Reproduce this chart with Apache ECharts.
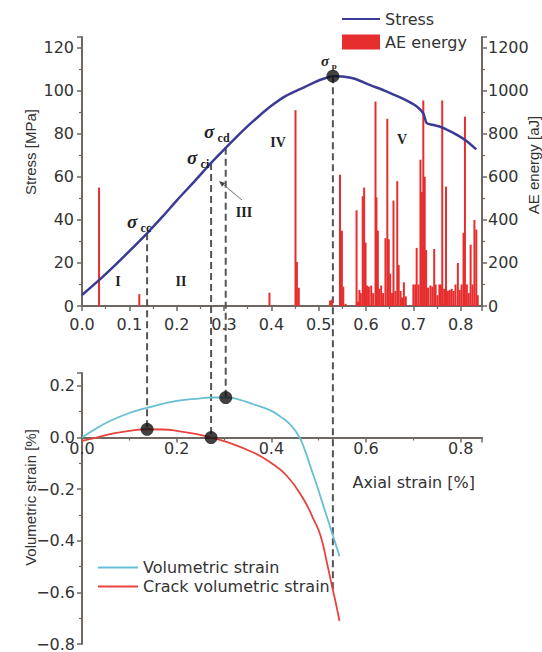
<!DOCTYPE html>
<html><head><meta charset="utf-8">
<script src="https://cdn.jsdelivr.net/npm/echarts@6/dist/echarts.min.js"></script>
<style>html,body{margin:0;padding:0;background:#fff}#c{width:542px;height:652px}</style>
</head><body><div id="c"></div>
<script>
// ---- data ----
const stressStrain = [0, 0.036, 0.07, 0.1, 0.1375, 0.17, 0.2, 0.24, 0.2727, 0.3036, 0.34, 0.37, 0.4, 0.43, 0.468, 0.5, 0.53, 0.55, 0.574, 0.609, 0.64, 0.666, 0.69, 0.708, 0.721, 0.728, 0.74, 0.758, 0.775, 0.793, 0.81, 0.833];
const stressValues = [5.1, 12, 19, 25.5, 33.8, 41.5, 49, 58.5, 66.5, 73.5, 81.5, 87.5, 93, 97.5, 101.5, 104.8, 106.8, 106.6, 105.7, 102.6, 100, 97.5, 95, 92.6, 89.5, 85, 84.2, 83.2, 81.5, 79.4, 77, 72.8];

const aeStrain = [0.036, 0.121, 0.396, 0.451, 0.454, 0.458, 0.524, 0.528, 0.545, 0.549, 0.552, 0.557, 0.580, 0.583, 0.586, 0.589, 0.593, 0.596, 0.599, 0.602, 0.606, 0.611, 0.615, 0.620, 0.622, 0.625, 0.628, 0.632, 0.636, 0.641, 0.645, 0.648, 0.651, 0.655, 0.658, 0.662, 0.666, 0.669, 0.673, 0.676, 0.680, 0.684, 0.700, 0.704, 0.707, 0.711, 0.715, 0.718, 0.721, 0.724, 0.727, 0.731, 0.736, 0.740, 0.744, 0.747, 0.751, 0.755, 0.758, 0.761, 0.765, 0.769, 0.773, 0.777, 0.781, 0.785, 0.789, 0.794, 0.798, 0.802, 0.806, 0.809, 0.813, 0.817, 0.821, 0.825, 0.829, 0.833, 0.836];
const aeEnergy = [550, 55, 62, 910, 205, 85, 25, 30, 610, 350, 90, 10, 445, 20, 75, 60, 510, 550, 295, 95, 90, 95, 60, 950, 505, 350, 80, 95, 60, 315, 870, 310, 150, 60, 490, 70, 580, 190, 70, 40, 110, 45, 100, 100, 270, 100, 680, 530, 955, 600, 260, 85, 95, 90, 265, 100, 50, 100, 100, 955, 80, 555, 70, 75, 80, 70, 100, 200, 75, 100, 340, 880, 100, 60, 285, 100, 400, 355, 50];

const volStrainX = [0, 0.03, 0.059, 0.1, 0.139, 0.2, 0.25, 0.2727, 0.3036, 0.33, 0.362, 0.398, 0.42, 0.44, 0.458, 0.47, 0.482, 0.497, 0.51, 0.528, 0.544];
const volStrainValues = [0, 0.035, 0.064, 0.095, 0.116, 0.142, 0.152, 0.155, 0.155, 0.148, 0.129, 0.105, 0.08, 0.05, 0.006, -0.045, -0.11, -0.19, -0.265, -0.368, -0.46];

const crackStrainX = [0, 0.03, 0.059, 0.1, 0.1375, 0.17, 0.2, 0.24, 0.2727, 0.31, 0.362, 0.398, 0.433, 0.468, 0.49, 0.504, 0.518, 0.528, 0.536, 0.544];
const crackStrainValues = [-0.013, 0.0, 0.013, 0.026, 0.032, 0.031, 0.026, 0.014, 0, -0.02, -0.058, -0.097, -0.149, -0.239, -0.32, -0.381, -0.49, -0.575, -0.64, -0.711];

// characteristic points: sigma_cc, sigma_ci, sigma_cd, sigma_p
const keyStrain = [0.1375, 0.2727, 0.3036, 0.530];
const keyStress = [33.8, 66.5, 73.5, 106.8];
const keyVolumetric = [0.032, 0, 0.155, -0.6];

const legendTop = ['Stress', 'AE energy'];
const legendBottom = ['Volumetric strain', 'Crack volumetric strain'];

// ---- chart ----
const zip = (a, b) => a.map((v, i) => [v, b[i]]);
const axisColor = '#6f6762';
const labelColor = '#333';
const FONT = 'DejaVu Sans';
const NAMEFONT = 'Liberation Sans';
const minus = v => (Math.abs(v) < 1e-9 ? '0.0' : v.toFixed(1).replace('-', '\u2212'));
const noSymbol = {opacity: 0, borderWidth: 0};

function valAxis(extra) {
  return Object.assign({
    type: 'value',
    nameMoveOverlap: false,
    axisLine: {show: true, onZero: false, lineStyle: {color: axisColor, width: 2}},
    axisTick: {show: true, inside: false, length: 5, lineStyle: {color: axisColor, width: 1.5}},
    minorTick: {show: true, splitNumber: 2, length: 3, lineStyle: {color: axisColor, width: 1.2}},
    splitLine: {show: false},
    minorSplitLine: {show: false},
    axisLabel: {color: labelColor, fontSize: 16, fontFamily: FONT, showMaxLabel: false, hideOverlap: false}
  }, extra);
}

const option = {
  animation: false,
  backgroundColor: '#ffffff',
  textStyle: {fontFamily: FONT},
  legend: [
    {orient: 'vertical', left: 336, top: 5, itemWidth: 38, itemHeight: 15, itemGap: 5,
     data: [{name: legendTop[0], itemStyle: noSymbol}, {name: legendTop[1], icon: 'rect'}],
     textStyle: {fontSize: 16, color: labelColor, fontFamily: FONT, lineHeight: 18}},
    {orient: 'vertical', left: 92, top: 553, itemWidth: 40, itemHeight: 10, itemGap: 0,
     data: legendBottom.map(n => ({name: n, itemStyle: noSymbol})),
     textStyle: {fontSize: 16, color: labelColor, fontFamily: FONT, lineHeight: 19}}
  ],
  grid: [
    {left: 82, right: 60, top: 37, height: 269, outerBoundsMode: 'none'},
    {left: 82, right: 60, top: 373, height: 271, outerBoundsMode: 'none'}
  ],
  xAxis: [
    valAxis({gridIndex: 0, min: 0, max: 0.845, interval: 0.1,
      axisLabel: {color: labelColor, fontSize: 16, fontFamily: FONT, showMaxLabel: false, margin: 10, formatter: v => v.toFixed(1)}}),
    valAxis({gridIndex: 1, min: 0, max: 0.845, interval: 0.2,
      axisLabel: {color: labelColor, fontSize: 16, fontFamily: FONT, showMaxLabel: false, margin: 3, formatter: v => v.toFixed(1)},
      name: 'Axial strain [%]', nameLocation: 'end', nameGap: -7,
      nameTextStyle: {color: labelColor, fontSize: 16, fontFamily: FONT, align: 'right', verticalAlign: 'top', padding: [37, 0, 0, 0]}})
  ],
  yAxis: [
    valAxis({gridIndex: 0, min: 0, max: 125, interval: 20,
      axisLabel: {color: labelColor, fontSize: 16, fontFamily: FONT, showMaxLabel: false, margin: 8},
      name: 'Stress [MPa]', nameLocation: 'middle', nameGap: 44, nameRotate: 90,
      nameTextStyle: {color: labelColor, fontSize: 15, fontFamily: NAMEFONT, padding: [0, 0, 0, 39]}}),
    valAxis({gridIndex: 0, position: 'right', min: 0, max: 1250, interval: 200,
      axisLabel: {color: labelColor, fontSize: 16, fontFamily: FONT, showMaxLabel: false, margin: 6, formatter: v => String(v)}}),
    valAxis({gridIndex: 1, min: -0.8, max: 0.25, interval: 0.2,
      axisLabel: {color: labelColor, fontSize: 16, fontFamily: FONT, showMaxLabel: false, margin: 7, formatter: minus},
      name: 'Volumetric strain [%]', nameLocation: 'middle', nameGap: 44, nameRotate: 90,
      nameTextStyle: {color: labelColor, fontSize: 15, fontFamily: NAMEFONT, padding: [0, 0, 0, 22]}})
  ],
  series: [
    {name: 'AE energy', type: 'bar', xAxisIndex: 0, yAxisIndex: 1, barWidth: 2,
     itemStyle: {color: '#e62e2e'}, data: zip(aeStrain, aeEnergy), z: 3},
    {name: 'Stress', type: 'line', xAxisIndex: 0, yAxisIndex: 0, symbol: 'none', smooth: 0.25,
     lineStyle: {color: '#3b3b96', width: 2.5}, itemStyle: {color: '#3b3b96'},
     data: zip(stressStrain, stressValues), z: 5},
    {name: 'peak', type: 'scatter', xAxisIndex: 0, yAxisIndex: 0, symbolSize: 13,
     itemStyle: {color: '#111'}, data: [[keyStrain[3], keyStress[3]]], z: 10},
    {name: 'Volumetric strain', type: 'line', xAxisIndex: 1, yAxisIndex: 2, symbol: 'none', smooth: true,
     lineStyle: {color: '#66bfd3', width: 1.8}, itemStyle: {color: '#66bfd3'},
     data: zip(volStrainX, volStrainValues), z: 5},
    {name: 'Crack volumetric strain', type: 'line', xAxisIndex: 1, yAxisIndex: 2, symbol: 'none', smooth: true,
     lineStyle: {color: '#e8433f', width: 1.8}, itemStyle: {color: '#e8433f'},
     data: zip(crackStrainX, crackStrainValues), z: 5},
    {name: 'points', type: 'scatter', xAxisIndex: 1, yAxisIndex: 2, symbolSize: 13,
     itemStyle: {color: '#111'},
     data: keyStrain.slice(0, 3).map((e, i) => [e, keyVolumetric[i]]), z: 10}
  ]
};

const chart = echarts.init(document.getElementById('c'), null, {renderer: 'svg'});
chart.setOption(option);

const toTop = (x, y) => chart.convertToPixel({xAxisIndex: 0, yAxisIndex: 0}, [x, y]);
const toBot = (x, y) => chart.convertToPixel({xAxisIndex: 1, yAxisIndex: 2}, [x, y]);

// move the lower x axis up to the zero line of the volumetric-strain axis
const zeroOffset = toBot(0, 0)[1] - toBot(0, -0.8)[1];
chart.setOption({xAxis: [{}, {offset: zeroOffset}]});

const g = [];
keyStrain.forEach((e, i) => {
  const a = toTop(e, keyStress[i]);
  const b = toBot(e, keyVolumetric[i]);
  g.push({type: 'line', z: 1, shape: {x1: a[0], y1: a[1], x2: b[0], y2: b[1]},
          style: {stroke: '#555', lineWidth: 2, lineDash: [7, 4]}});
});

// right axis title
g.push({type: 'text', x: 533, y: 165, rotation: Math.PI / 2, z: 20,
  style: {text: 'AE energy [aJ]', fontFamily: NAMEFONT, fontSize: 15, fill: labelColor, align: 'center', verticalAlign: 'middle'}});

const serif = 'Liberation Serif';
function sig(x, y, sub, size) {
  g.push({type: 'text', x: x, y: y, z: 20, style: {text: '\u03c3', fontFamily: serif, fontStyle: 'italic', fontWeight: 'bold',
    fontSize: size, fill: '#222', align: 'center', verticalAlign: 'middle'}});
  g.push({type: 'text', x: x + size * 0.45, y: y + size * 0.35, z: 20, style: {text: sub, fontFamily: serif, fontWeight: 'bold',
    fontSize: Math.round(size * 0.62), fill: '#222', align: 'left', verticalAlign: 'middle'}});
}
sig(132, 221, 'cc', 19);
sig(192, 157, 'ci', 19);
sig(209, 131, 'cd', 19);
sig(325, 61, 'p', 15);

function roman(x, y, t) {
  g.push({type: 'text', x: x, y: y, z: 20, style: {text: t, fontFamily: serif, fontWeight: 'bold', fontSize: 14,
    fill: '#222', align: 'center', verticalAlign: 'middle'}});
}
roman(118, 281, 'I');
roman(181, 281, 'II');
roman(244, 212, 'III');
roman(278, 142, 'IV');
roman(402, 139, 'V');

// arrow from III label to zone III
const tail = [242, 200], head = [219, 181];
const dx = head[0] - tail[0], dy = head[1] - tail[1], L = Math.hypot(dx, dy);
const ux = dx / L, uy = dy / L, px = -uy, py = ux;
const bx = head[0] - ux * 6, by = head[1] - uy * 6;
g.push({type: 'line', z: 20, shape: {x1: tail[0], y1: tail[1], x2: bx, y2: by}, style: {stroke: '#777', lineWidth: 1}});
g.push({type: 'polygon', z: 20, shape: {points: [head, [bx + px * 2.5, by + py * 2.5], [bx - px * 2.5, by - py * 2.5]]},
        style: {fill: '#444'}});

chart.setOption({graphic: g});
</script>
</body></html>
